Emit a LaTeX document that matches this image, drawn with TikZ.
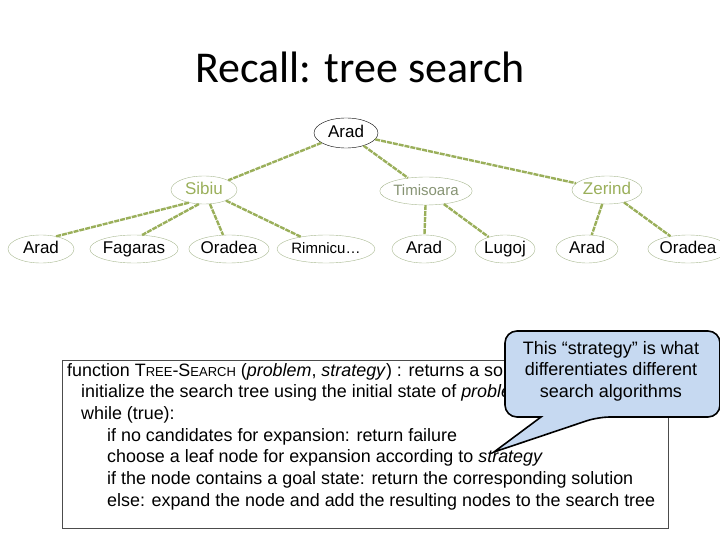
\documentclass[tikz,border=0pt]{standalone}
\usepackage{fontspec}
\setmainfont{Liberation Sans}
\newfontfamily\titlefont{Carlito}
\usetikzlibrary{shapes.geometric}
\definecolor{edgeg}{HTML}{9AAF5A}
\definecolor{ellg}{HTML}{A8B890}
\definecolor{callfill}{HTML}{C6D9F1}
\begin{document}
\begin{tikzpicture}[x=1pt,y=-1pt,
  tn/.style={ellipse,draw=ellg,thin,inner sep=0pt,minimum height=28pt,text height=12pt,text depth=3.5pt,font=\fontsize{17}{19}\selectfont},
  ed/.style={draw=edgeg,line width=2.4pt,dash pattern=on 5pt off 1pt}]
\useasboundingbox (0,0) rectangle (720,540);
\node[font=\titlefont\fontsize{44}{50}\selectfont] (title) at (360,67) {Recall: tree search};
\node[tn,draw=black,minimum width=64pt,minimum height=30pt] (r) at (346,133) {Arad};
\node[tn,text=edgeg,minimum width=66pt] (s) at (204,190) {Sibiu};
\node[tn,text=ellg!80!black,font=\fontsize{15}{17}\selectfont,minimum width=86pt] (t) at (426,191) {Timisoara};
\node[tn,text=edgeg,minimum width=70pt] (z) at (607,190) {Zerind};
\node[tn,minimum width=66pt] (l1) at (41,249) {Arad};
\node[tn,minimum width=76pt] (l2) at (134,249) {Fagaras};
\node[tn,minimum width=64pt] (l3) at (229,249) {Oradea};
\node[tn,font=\fontsize{15}{17}\selectfont,minimum width=90pt] (l4) at (326,249) {Rimnicu…};
\node[tn,minimum width=64pt] (l5) at (424,249) {Arad};
\node[tn,minimum width=60pt] (l6) at (505,249) {Lugoj};
\node[tn,minimum width=62pt] (l7) at (587,249) {Arad};
\node[tn,minimum width=62pt] (l8) at (688,249) {Oradea};
\draw[ed] (r) -- (s); \draw[ed] (r) -- (t); \draw[ed] (r) -- (z);
\draw[ed] (s.220) -- (l1.40); \draw[ed] (s.250) -- (l2.60);
\draw[ed] (s) -- (l3); \draw[ed] (s) -- (l4);
\draw[ed] (t) -- (l5); \draw[ed] (t) -- (l6);
\draw[ed] (z) -- (l7); \draw[ed] (z) -- (l8);
\node[draw=black!70,thin,minimum width=606pt,minimum height=168pt,anchor=north west] (box) at (62,360) {};
\node[anchor=north west,align=left,font=\fontsize{17.9}{21.7}\selectfont,inner sep=0pt] (code) at (67,363) {%
function T{\fontsize{13}{14}\selectfont REE}-S{\fontsize{13}{14}\selectfont EARCH} (\textit{problem}, \textit{strategy}) : returns a solution, or failure\\
\hspace*{14pt}initialize the search tree using the initial state of \textit{problem}\\
\hspace*{14pt}while (true):\\
\hspace*{40pt}if no candidates for expansion: return failure\\
\hspace*{40pt}choose a leaf node for expansion according to \textit{strategy}\\
\hspace*{40pt}if the node contains a goal state: return the corresponding solution\\
\hspace*{40pt}else: expand the node and add the resulting nodes to the search tree};
\coordinate (tip) at (494,452);
\draw[fill=callfill,line width=1.6pt,rounded corners=12pt]
  (505,331) -- (720,331) -- (720,417) -- (598,417) [sharp corners]-- (tip) -- (541,417) [rounded corners=12pt] -- (505,417) -- cycle;
\node[align=center,font=\fontsize{18}{21.5}\selectfont] (call) at (611,371) {This “strategy” is what\\differentiates different\\search algorithms};
\end{tikzpicture}
\end{document}
